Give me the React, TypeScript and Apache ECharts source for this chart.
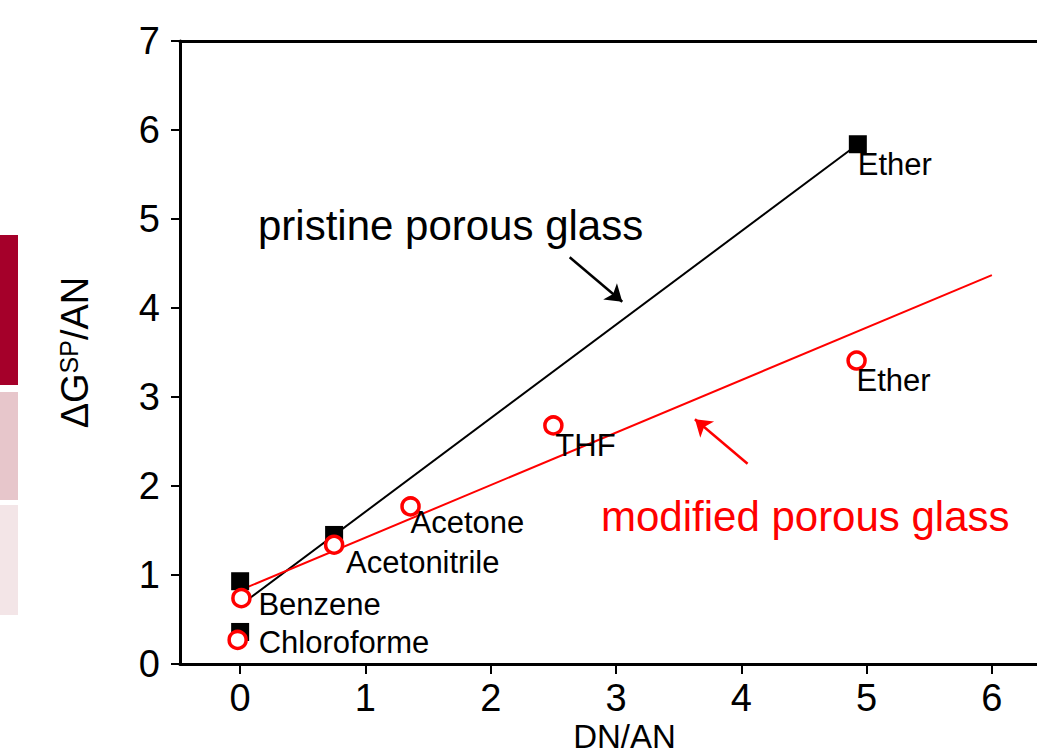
import React, { useEffect, useRef } from "react";
import * as echarts from "echarts";

// Data
const pristineNames = ["Chloroforme", "Benzene", "Acetonitrile", "Ether"];
const pristineX = [0, 0, 0.75, 4.93];
const pristineY = [0.36, 0.93, 1.45, 5.84];

const modifiedNames = ["Chloroforme", "Benzene", "Acetonitrile", "Acetone", "THF", "Ether"];
const modifiedX = [-0.02, 0.01, 0.75, 1.36, 2.5, 4.92];
const modifiedY = [0.27, 0.74, 1.34, 1.77, 2.68, 3.41];

// Fit lines (endpoints)
const pristineFitX = [0, 4.93];
const pristineFitY = [0.66, 5.84];
const modifiedFitX = [0, 6];
const modifiedFitY = [0.83, 4.37];

// Annotation arrows (data coords)
const pristineArrow = [[2.63, 4.57], [3.05, 4.07]];
const modifiedArrow = [[4.05, 2.25], [3.63, 2.75]];

const xTicks = [0, 1, 2, 3, 4, 5, 6];

// label styling (pixel offsets, not data)
const pristineLabelShow = [false, false, false, true];
const pristineLabelOffset = [[0, 0], [0, 0], [0, 0], [0, 20]];
const modifiedLabelOffset = [[21, 3], [17, 6], [12, 18], [0, 16], [2, 20], [0, 20]];

const FONT = "'Liberation Sans', Arial, Helvetica, sans-serif";

export default function App() {
  const ref = useRef<HTMLDivElement>(null);

  useEffect(() => {
    document.body.style.margin = "0";
    if (!ref.current) return;
    const chart = echarts.init(ref.current, undefined, { renderer: "svg" });

    const axisCommon = {
      type: "value" as const,
      min: -0.48,
      max: 6.36,
    };

    const option: any = {
      animation: false,
      backgroundColor: "#ffffff",
      textStyle: { fontFamily: FONT },
      grid: { left: 180, right: 0, top: 41, bottom: 91, containLabel: false, outerBoundsMode: "none" },
      xAxis: [
        {
          ...axisCommon,
          position: "bottom",
          name: "DN/AN",
          nameLocation: "middle",
          nameGap: 56,
          nameMoveOverlap: false,
          nameTextStyle: { fontSize: 33, lineHeight: 33, color: "#000", fontFamily: FONT, padding: [0, 0, 0, 32] },
          axisLine: { show: true, onZero: false, lineStyle: { color: "#000", width: 3 } },
          axisTick: { show: true, inside: false, length: 10, lineStyle: { color: "#000", width: 2 }, customValues: xTicks },
          axisLabel: { show: true, margin: 16, fontSize: 38, lineHeight: 36, color: "#000", fontFamily: FONT, customValues: xTicks },
          splitLine: { show: false },
        },
        {
          ...axisCommon,
          position: "top",
          axisLine: { show: true, onZero: false, lineStyle: { color: "#000", width: 3 } },
          axisTick: { show: false },
          axisLabel: { show: false },
          splitLine: { show: false },
        },
      ],
      yAxis: {
        type: "value",
        min: 0,
        max: 7,
        interval: 1,
        name: "ΔG{sup|SP}/AN",
        nameLocation: "middle",
        nameRotate: 90,
        nameGap: 86,
        nameTextStyle: {
          fontSize: 38,
          color: "#000",
          fontFamily: FONT,
          rich: {
            sup: { fontSize: 25, color: "#000", fontFamily: FONT, verticalAlign: "top", padding: [0, 0, 12, 0] },
          },
        },
        axisLine: { show: true, onZero: false, lineStyle: { color: "#000", width: 3 } },
        axisTick: { show: true, inside: false, length: 9, lineStyle: { color: "#000", width: 2 } },
        axisLabel: { show: true, margin: 20, fontSize: 38, color: "#000", fontFamily: FONT },
        splitLine: { show: false },
      },
      graphic: [
        { type: "rect", left: 0, top: 235, shape: { x: 0, y: 0, width: 18, height: 150 }, style: { fill: "#A5002A" } },
        { type: "rect", left: 0, top: 392, shape: { x: 0, y: 0, width: 18, height: 108 }, style: { fill: "#E7C6CB" } },
        { type: "rect", left: 0, top: 505, shape: { x: 0, y: 0, width: 18, height: 110 }, style: { fill: "#F3E5E7" } },
        {
          type: "text",
          left: 258,
          top: 204,
          style: { text: "pristine porous glass", fontSize: 42, fill: "#000", fontFamily: FONT },
        },
        {
          type: "text",
          left: 601,
          top: 495,
          style: { text: "modified porous glass", fontSize: 42, fill: "#FF0000", fontFamily: FONT },
        },
      ],
      series: [
        {
          type: "line",
          name: "pristine fit",
          data: pristineFitX.map((x, i) => [x, pristineFitY[i]]),
          showSymbol: false,
          symbol: "none",
          lineStyle: { color: "#000", width: 2 },
          silent: true,
          z: 2,
          markLine: {
            silent: true,
            symbol: ["none", "arrow"],
            symbolSize: 16,
            label: { show: false },
            lineStyle: { color: "#000", width: 2.5, type: "solid" },
            itemStyle: { color: "#000" },
            data: [[{ coord: pristineArrow[0] }, { coord: pristineArrow[1] }]],
          },
        },
        {
          type: "line",
          name: "modified fit",
          data: modifiedFitX.map((x, i) => [x, modifiedFitY[i]]),
          showSymbol: false,
          symbol: "none",
          lineStyle: { color: "#FF0000", width: 2 },
          silent: true,
          z: 2,
          markLine: {
            silent: true,
            symbol: ["none", "arrow"],
            symbolSize: 16,
            label: { show: false },
            lineStyle: { color: "#FF0000", width: 2.5, type: "solid" },
            itemStyle: { color: "#FF0000" },
            data: [[{ coord: modifiedArrow[0] }, { coord: modifiedArrow[1] }]],
          },
        },
        {
          type: "scatter",
          name: "pristine porous glass",
          symbol: "rect",
          symbolSize: 18,
          itemStyle: { color: "#000", opacity: 1 },
          z: 3,
          data: pristineX.map((x, i) => ({
            value: [x, pristineY[i]],
            name: pristineNames[i],
            label: {
              show: pristineLabelShow[i],
              formatter: pristineNames[i],
              position: "inside",
              align: "left",
              verticalAlign: "middle",
              offset: pristineLabelOffset[i],
              fontSize: 31,
              color: "#000",
              fontFamily: FONT,
            },
          })),
        },
        {
          type: "scatter",
          name: "modified porous glass",
          symbol: "circle",
          symbolSize: 17,
          itemStyle: { color: "#ffffff", borderColor: "#FF0000", borderWidth: 3.5, opacity: 1 },
          z: 4,
          data: modifiedX.map((x, i) => ({
            value: [x, modifiedY[i]],
            name: modifiedNames[i],
            label: {
              show: true,
              formatter: modifiedNames[i],
              position: "inside",
              align: "left",
              verticalAlign: "middle",
              offset: modifiedLabelOffset[i],
              fontSize: 31,
              color: "#000",
              fontFamily: FONT,
            },
          })),
        },
      ],
    };

    chart.setOption(option);
    return () => chart.dispose();
  }, []);

  return <div ref={ref} style={{ width: 1037, height: 755 }} />;
}
